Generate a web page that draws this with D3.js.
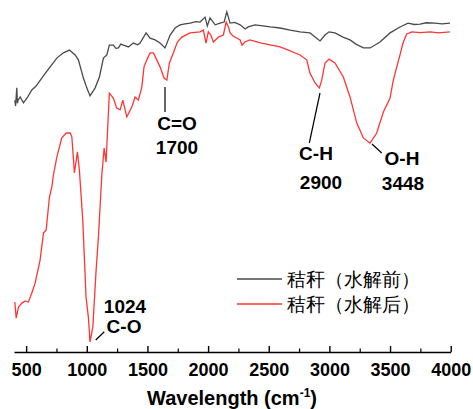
<!DOCTYPE html>
<html><head><meta charset="utf-8">
<script src="https://cdn.jsdelivr.net/npm/d3@7"></script>
<style>
body{margin:0;background:#fff;}
text{font-family:"Liberation Sans",Arial,sans-serif;}
</style></head>
<body><svg id="c" width="473" height="409"></svg>
<script>
// Wavenumber (cm-1) and relative transmittance (arbitrary units, no y axis shown)
const beforeWn = [407,413,423,428,434,451,478,508,547,582,629,665,698,753,807,857,904,931,972,1000,1027,1069,1104,1137,1165,1186,1219,1240,1261,1280,1302,1343,1384,1420,1439,1489,1522,1563,1604,1645,1687,1728,1769,1810,1852,1900,1934,1975,1994,2016,2058,2099,2132,2154,2165,2181,2220,2264,2306,2330,2387,2450,2511,2593,2676,2758,2840,2882,2923,2964,2997,3046,3112,3170,3219,3280,3335,3417,3500,3582,3648,3700,3747,3800,3871,3930,3994];
const beforeT  = [71.4,69.7,74.9,70.5,71.4,72.3,70.6,72,74.3,75.4,77.7,79.4,80.9,83.4,84.9,85.7,84.3,82.9,77.7,74.9,72.6,74.9,78,83.4,84.3,87.1,87.1,86.2,86.3,87.4,87.1,86.6,87.7,87.2,87.7,90.6,89.1,88.6,87.7,86.3,90,92,92.9,93.2,93.4,93.8,93.7,95.1,92.6,94.9,92.9,93.4,93.7,96.6,95.4,93.4,93.6,92.9,91.7,92.3,92.9,92.6,92.3,92,91.4,90.9,90.6,89.4,88.3,90,90.9,90.6,89.4,88.6,87.4,86.3,86.3,88,90.6,92.3,93.4,93.0,93.1,93.5,93.4,93.2,93.4];
const afterWn  = [407,418,437,465,492,519,537,547,574,615,643,665,692,712,725,753,794,830,863,877,898,923,939,967,994,1013,1027,1050,1077,1096,1124,1143,1159,1186,1219,1247,1275,1297,1330,1371,1398,1425,1453,1472,1495,1522,1549,1577,1604,1637,1660,1681,1714,1747,1783,1852,1934,1961,1983,2002,2022,2044,2085,2126,2149,2168,2181,2206,2264,2280,2302,2344,2440,2593,2662,2758,2813,2840,2882,2917,2937,2964,2997,3046,3115,3170,3225,3280,3335,3390,3445,3500,3527,3582,3607,3637,3679,3750,3830,3900,3994];
const afterT   = [13.7,9.1,12.3,13.4,14,13.7,15.4,16.3,19.1,25.7,33.4,34.3,43.7,46.6,50,55.1,60.6,62,62,60.9,50.6,56.6,51.4,37.1,15.1,9.4,2.3,6.6,22.9,32.3,50,57.7,53.7,73.4,72,69.1,68.6,71.4,66.6,69.4,72.3,71.4,74.9,80.9,82.9,84.9,84.9,82.9,80.9,77.7,77.1,82,84.9,88,89.4,90.6,90.9,91.4,87.7,90.9,90,88,89.4,90,93.7,92.3,90.6,89.7,88.6,87.1,88,88.6,87.7,86.6,85.7,84.3,82.9,79.1,76.3,74.9,77.1,82,83.1,82,78,72.3,64.9,60.6,59.1,62,68,72,77.1,84.3,87.7,90.3,90.9,90.7,90.9,90.6,90.9];
const xTicks = [500,1000,1500,2000,2500,3000,3500,4000];
const xMinorTicks = [750,1250,1750,2250,2750,3250,3750];
const legendLabels = ["秸秆（水解前）","秸秆（水解后）"];
const peaks = [
  {wn:1024, label:"1024", group:"C-O"},
  {wn:1700, label:"1700", group:"C=O"},
  {wn:2900, label:"2900", group:"C-H"},
  {wn:3448, label:"3448", group:"O-H"}
];

const svg = d3.select("#c");
const x = d3.scaleLinear().domain([400,4000]).range([14,450.7]);
const y = d3.scaleLinear().domain([0,100]).range([350,0]);
const line = d3.line().x(d=>x(d[0])).y(d=>y(d[1]));

const before = beforeWn.map((w,i)=>[w,beforeT[i]]);
const after = afterWn.map((w,i)=>[w,afterT[i]]);
const colors = ["#4a4a4a","#ff3535"];

svg.append("path").datum(before).attr("d",line).attr("fill","none").attr("stroke",colors[0]).attr("stroke-width",1.3);
svg.append("path").datum(after).attr("d",line).attr("fill","none").attr("stroke",colors[1]).attr("stroke-width",1.3);

// axis
const ax = svg.append("g").attr("transform","translate(0,352)")
  .call(d3.axisBottom(x).tickValues(xTicks).tickFormat(d3.format("d")).tickSizeInner(-6).tickSizeOuter(0).tickPadding(11));
ax.select(".domain").attr("stroke","#000").attr("stroke-width",1.6);
ax.selectAll(".tick line").attr("stroke","#000").attr("stroke-width",1.4);
ax.selectAll(".tick text").attr("font-size",18).attr("font-weight","bold").attr("fill","#000")
  .attr("font-family","'Liberation Sans',Arial,sans-serif");
const axm = svg.append("g").attr("transform","translate(0,352)")
  .call(d3.axisBottom(x).tickValues(xMinorTicks).tickSize(-3.5).tickFormat(""));
axm.select(".domain").remove();
axm.selectAll(".tick line").attr("stroke","#000").attr("stroke-width",1.2);

const title = svg.append("text").attr("x",232).attr("y",405).attr("text-anchor","middle")
  .attr("font-size",20).attr("font-weight","bold");
title.append("tspan").text("Wavelength (cm");
title.append("tspan").attr("font-size",12).attr("dy",-8).text("-1");
title.append("tspan").attr("dy",8).text(")");

// legend
const lg = svg.append("g");
legendLabels.forEach((t,i)=>{
  const yy = 279 + i*25;
  lg.append("line").attr("x1",237).attr("x2",282).attr("y1",yy).attr("y2",yy).attr("stroke",colors[i]).attr("stroke-width",1.3);
  lg.append("text").attr("x",287).attr("y",yy+6.5).attr("font-size",18.5)
    .attr("font-family","'Noto Sans CJK SC',sans-serif").text(t);
});

// annotations
const ann = svg.append("g").attr("font-weight","bold").attr("font-size",19).attr("fill","#000");
function leader(x1,y1,x2,y2){ann.append("line").attr("x1",x1).attr("y1",y1).attr("x2",x2).attr("y2",y2).attr("stroke","#000").attr("stroke-width",1.2);}
// 1700 C=O
leader(165,87,165,112);
ann.append("text").attr("x",177).attr("y",130).attr("text-anchor","middle").text(peaks[1].group);
ann.append("text").attr("x",177).attr("y",154).attr("text-anchor","middle").text(peaks[1].label);
// 2900 C-H
leader(320,93,309.3,143);
ann.append("text").attr("x",316).attr("y",160).attr("text-anchor","middle").text(peaks[2].group);
ann.append("text").attr("x",321).attr("y",189).attr("text-anchor","middle").text(peaks[2].label);
// 3448 O-H
leader(372,144,381.7,153);
ann.append("text").attr("x",402).attr("y",165).attr("text-anchor","middle").text(peaks[3].group);
ann.append("text").attr("x",403).attr("y",190).attr("text-anchor","middle").text(peaks[3].label);
// 1024 C-O
leader(95.7,340,104.3,331.7);
ann.append("text").attr("x",125).attr("y",313).attr("text-anchor","middle").text(peaks[0].label);
ann.append("text").attr("x",124).attr("y",333).attr("text-anchor","middle").text(peaks[0].group);
</script></body></html>
